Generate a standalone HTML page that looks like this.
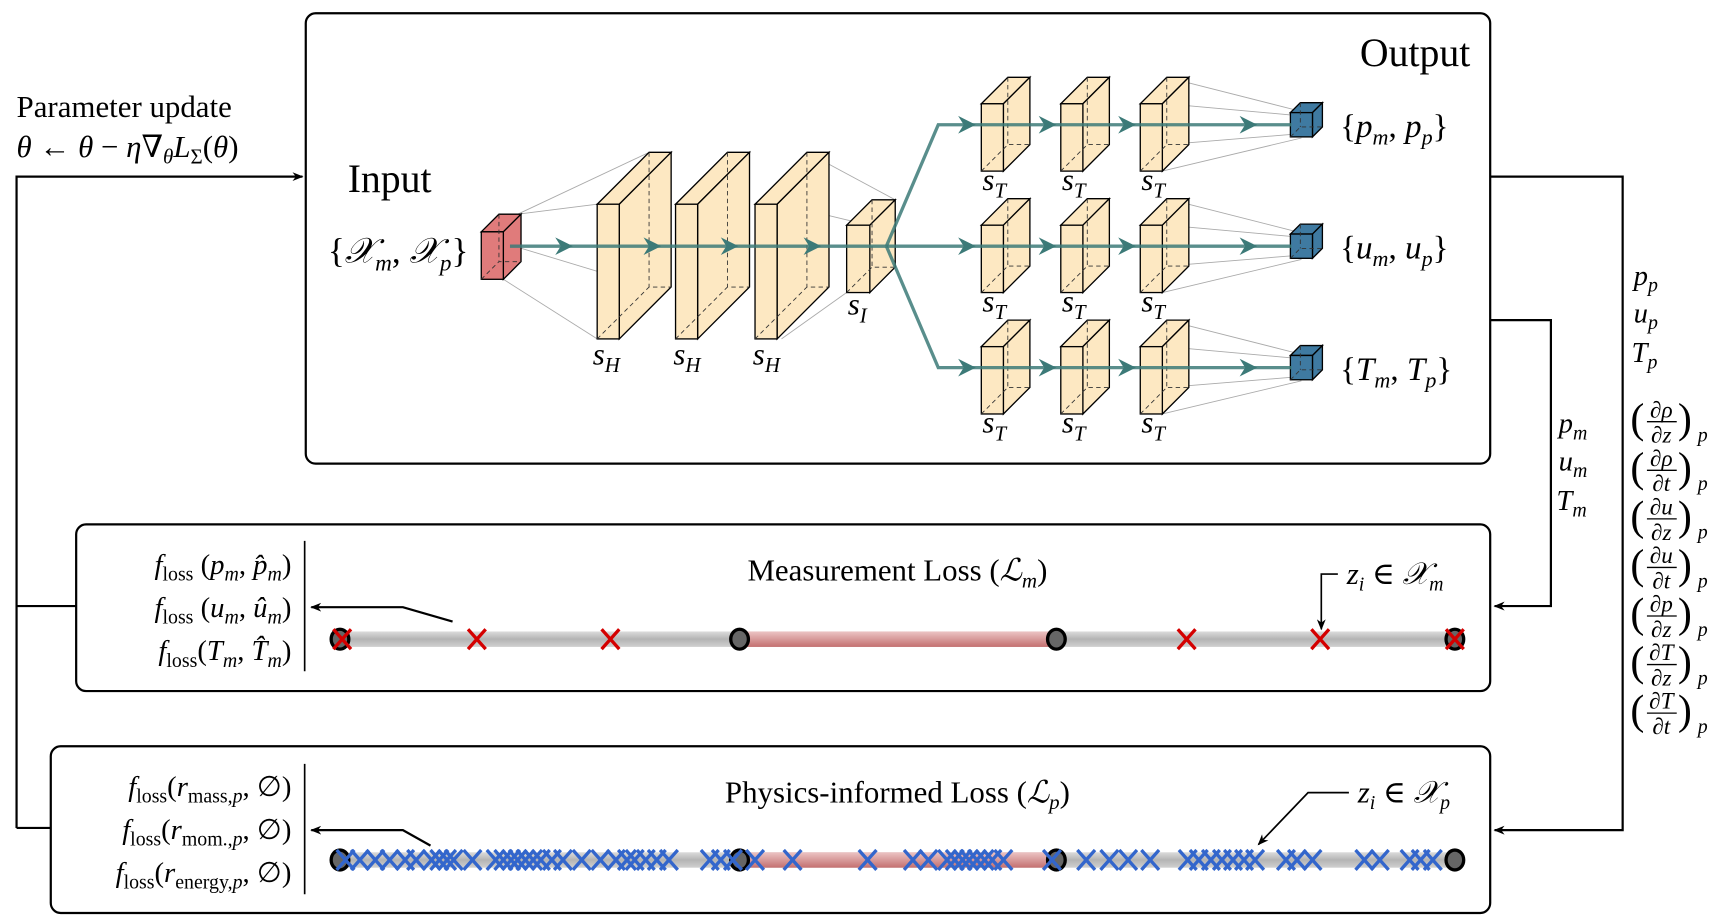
<!DOCTYPE html>
<html><head><meta charset="utf-8"><style>
html,body{margin:0;padding:0;background:#fff;}
svg{display:block;}
text{font-family:"Liberation Serif","DejaVu Serif",serif;fill:#000;}
.it{font-style:italic;}
</style></head><body>
<svg id="fig" width="1722" height="924" viewBox="0 0 1560 837" preserveAspectRatio="none" xmlns="http://www.w3.org/2000/svg" font-family="Liberation Serif, DejaVu Serif, serif">
<defs>
<marker id="ah" markerWidth="10" markerHeight="10" refX="9" refY="5" orient="auto" markerUnits="userSpaceOnUse"><path d="M0,1 L10,5 L0,9 L3,5 z" fill="#000"/></marker>
<linearGradient id="gpipe" x1="0" y1="0" x2="0" y2="1"><stop offset="0" stop-color="#dcdcdc"/><stop offset="0.5" stop-color="#b4b4b4"/><stop offset="1" stop-color="#d0d0d0"/></linearGradient>
<linearGradient id="rpipe" x1="0" y1="0" x2="0" y2="1"><stop offset="0" stop-color="#ecc4c4"/><stop offset="0.5" stop-color="#d79a9a"/><stop offset="1" stop-color="#c47070"/></linearGradient>
</defs>

<rect x="277" y="12" width="1073" height="408" rx="9" fill="none" stroke="#000" stroke-width="2"/>
<text x="1332" y="60" font-size="36" text-anchor="end">Output</text>
<text x="315" y="174" font-size="36">Input</text>
<text x="15" y="106" font-size="28">Parameter update</text>
<text x="15" y="142" font-size="28"><tspan class="it">θ</tspan> ← <tspan class="it">θ</tspan> − <tspan class="it">η</tspan>∇<tspan class="it" font-size="19" dy="6">θ</tspan><tspan class="it" dy="-6">L</tspan><tspan font-size="19" dy="6">Σ</tspan><tspan dy="-6">(</tspan><tspan class="it">θ</tspan>)</text>
<text x="297" y="238" font-size="32">{<tspan class="it">𝒳</tspan><tspan class="it" font-size="21" dy="7">m</tspan><tspan dy="-7">, </tspan><tspan class="it">𝒳</tspan><tspan class="it" font-size="21" dy="7">p</tspan><tspan dy="-7">}</tspan></text>

<g id="net"></g>

<polyline points="15,750 15,160 274,160" fill="none" stroke="#000" stroke-width="2" marker-end="url(#ah)"/>
<line x1="15" y1="549" x2="69" y2="549" stroke="#000" stroke-width="2"/>
<line x1="15" y1="750" x2="46" y2="750" stroke="#000" stroke-width="2"/>
<polyline points="1350,160 1470,160 1470,752 1354,752" fill="none" stroke="#000" stroke-width="2" marker-end="url(#ah)"/>
<polyline points="1350,290 1405,290 1405,549 1354,549" fill="none" stroke="#000" stroke-width="2" marker-end="url(#ah)"/>

<g font-size="26" class="it">
<text x="1412" y="392" class="it">p<tspan font-size="18" dy="6">m</tspan></text>
<text x="1412" y="426" class="it">u<tspan font-size="18" dy="6">m</tspan></text>
<text x="1410" y="462" class="it">T<tspan font-size="18" dy="6">m</tspan></text>
</g>
<g font-size="26">
<text x="1480" y="258" class="it">p<tspan font-size="18" dy="6">p</tspan></text>
<text x="1480" y="292" class="it">u<tspan font-size="18" dy="6">p</tspan></text>
<text x="1478" y="328" class="it">T<tspan font-size="18" dy="6">p</tspan></text>
<g id="derivs"></g>
</g>

<rect x="69" y="475" width="1281" height="151" rx="9" fill="none" stroke="#000" stroke-width="2"/>
<text x="813" y="526" font-size="28" text-anchor="middle">Measurement Loss (<tspan class="it">ℒ</tspan><tspan class="it" font-size="19" dy="6">m</tspan><tspan dy="-6">)</tspan></text>
<text x="1220" y="529" font-size="28" class="it">z<tspan font-size="18" dy="6">i</tspan><tspan dy="-6" font-style="normal"> ∈ </tspan>𝒳<tspan font-size="18" dy="6">m</tspan></text>
<polyline points="1212,520 1197,520 1197,570" fill="none" stroke="#000" stroke-width="1.5" marker-end="url(#ah)"/>
<g font-size="26" text-anchor="end">
<text x="264" y="520"><tspan class="it">f</tspan><tspan font-size="18" dy="6">loss</tspan><tspan dy="-6"> (</tspan><tspan class="it">p</tspan><tspan class="it" font-size="18" dy="6">m</tspan><tspan dy="-6">, </tspan><tspan class="it">p̂</tspan><tspan class="it" font-size="18" dy="6">m</tspan><tspan dy="-6">)</tspan></text>
<text x="264" y="559"><tspan class="it">f</tspan><tspan font-size="18" dy="6">loss</tspan><tspan dy="-6"> (</tspan><tspan class="it">u</tspan><tspan class="it" font-size="18" dy="6">m</tspan><tspan dy="-6">, </tspan><tspan class="it">û</tspan><tspan class="it" font-size="18" dy="6">m</tspan><tspan dy="-6">)</tspan></text>
<text x="264" y="598"><tspan class="it">f</tspan><tspan font-size="18" dy="6">loss</tspan><tspan dy="-6">(</tspan><tspan class="it">T</tspan><tspan class="it" font-size="18" dy="6">m</tspan><tspan dy="-6">, </tspan><tspan class="it">T̂</tspan><tspan class="it" font-size="18" dy="6">m</tspan><tspan dy="-6">)</tspan></text>
</g>
<line x1="276" y1="490" x2="276" y2="608" stroke="#000" stroke-width="1.5"/>
<polyline points="410,563 365,550 282,550" fill="none" stroke="#000" stroke-width="2" marker-end="url(#ah)"/>

<rect x="46" y="676" width="1304" height="151" rx="9" fill="none" stroke="#000" stroke-width="2"/>
<text x="813" y="727" font-size="28" text-anchor="middle">Physics-informed Loss (<tspan class="it">ℒ</tspan><tspan class="it" font-size="19" dy="6">p</tspan><tspan dy="-6">)</tspan></text>
<text x="1230" y="727" font-size="28" class="it">z<tspan font-size="18" dy="6">i</tspan><tspan dy="-6" font-style="normal"> ∈ </tspan>𝒳<tspan font-size="18" dy="6">p</tspan></text>
<polyline points="1222,718 1185,718 1140,765" fill="none" stroke="#000" stroke-width="1.5" marker-end="url(#ah)"/>
<g font-size="26" text-anchor="end">
<text x="264" y="721"><tspan class="it">f</tspan><tspan font-size="18" dy="6">loss</tspan><tspan dy="-6">(</tspan><tspan class="it">r</tspan><tspan font-size="18" dy="6">mass,</tspan><tspan class="it" font-size="18">p</tspan><tspan dy="-6">, ∅)</tspan></text>
<text x="264" y="760"><tspan class="it">f</tspan><tspan font-size="18" dy="6">loss</tspan><tspan dy="-6">(</tspan><tspan class="it">r</tspan><tspan font-size="18" dy="6">mom.,</tspan><tspan class="it" font-size="18">p</tspan><tspan dy="-6">, ∅)</tspan></text>
<text x="264" y="799"><tspan class="it">f</tspan><tspan font-size="18" dy="6">loss</tspan><tspan dy="-6">(</tspan><tspan class="it">r</tspan><tspan font-size="18" dy="6">energy,</tspan><tspan class="it" font-size="18">p</tspan><tspan dy="-6">, ∅)</tspan></text>
</g>
<line x1="276" y1="692" x2="276" y2="810" stroke="#000" stroke-width="1.5"/>
<polyline points="390,766 365,752 282,752" fill="none" stroke="#000" stroke-width="2" marker-end="url(#ah)"/>

<g id="pipes"></g>
</svg>
<script>
const pipeDomain = [0, 1010];
const sensorPositions = [0, 362, 649, 1010];
const heatedSection = [362, 649];
const measurementPoints = [2, 124, 245, 767, 888, 1010];
const collocationPoints = [5,18,32,45,59,69,83,90,97,103,120,141,148,155,161,168,175,182,192,202,219,236,250,260,267,277,287,298,335,345,356,376,410,478,519,533,550,557,564,570,577,584,591,601,645,676,697,714,734,768,778,789,799,809,819,829,857,867,881,928,942,969,979,990];

const NS = 'http://www.w3.org/2000/svg';
function mk(tag, attrs, parent){
  const e = document.createElementNS(NS, tag);
  for (const k in attrs) e.setAttribute(k, attrs[k]);
  parent.appendChild(e);
  return e;
}
function xPipe(z){ return 308 + (z - pipeDomain[0]) / (pipeDomain[1] - pipeDomain[0]) * (1318 - 308); }

const net = document.getElementById('net');
const TEAL = '#3c7a78';
function box(x, y, w, h, d, fill, name){
  const g = mk('g', {}, net);
  
  
  mk('polygon', {points:`${x},${y} ${x+d},${y-d} ${x+w+d},${y-d} ${x+w},${y}`, fill, stroke:'#000','stroke-width':1.2}, g);
  mk('polygon', {points:`${x+w},${y} ${x+w+d},${y-d} ${x+w+d},${y+h-d} ${x+w},${y+h}`, fill, stroke:'#000','stroke-width':1.2}, g);
  mk('rect', {x, y, width:w, height:h, fill, stroke:'#000','stroke-width':1.2}, g);
  mk('polyline', {points:`${x},${y+h} ${x+d},${y+h-d} ${x+w+d},${y+h-d}`, fill:'none', stroke:'#333','stroke-width':0.8,'stroke-dasharray':'4,3'}, g);
  mk('line', {x1:x+d, y1:y-d, x2:x+d, y2:y+h-d, stroke:'#333','stroke-width':0.8,'stroke-dasharray':'4,3'}, g);
  return g;
}
function thin(x1,y1,x2,y2){ mk('line',{x1,y1,x2,y2,stroke:'#aaa','stroke-width':0.8},net); }
function chevron(x, y){
  const p = mk('path', {d:`M${x-12},${y-8} L${x+4},${y} L${x-12},${y+8} L${x-7},${y} z`, fill:TEAL}, net);
  
  
}
thin(469,194,588,138); thin(469,194,541,185); thin(456,253,541,307); thin(456,220,588,260);
thin(731,138,811,181); thin(708,307,767,265); thin(708,185,787,204);
const rowsY = [94, 204, 314];
const colsX = [889, 961, 1033];
rowsY.forEach(ry=>{ const cx=1179, cy=ry+19; thin(1057,ry-24,cx,cy-12); thin(1057,ry,cx,cy-8); thin(1057,ry+37,cx,cy+8); thin(1053,ry+61,cx,cy+12); });

box(436, 210, 20, 43, 16, '#e07b7b', 'input-layer');
[541, 612, 684].forEach(x=> box(x, 185, 20, 122, 47, '#fde8c2', 'hidden-layer'));
box(767, 204, 21, 61, 23, '#fde8c2', 'intermediate-layer');
rowsY.forEach((ry,ri)=>{
  colsX.forEach(cx=> box(cx, ry, 20, 61, 24, '#fde8c2', 'task-layer'));
  box(1169, ry+8, 20, 22, 9, '#3f7aa1', 'output-layer');
});
const fl = mk('polyline',{points:'462,223 803,223', fill:'none', stroke:TEAL,'stroke-width':3,opacity:0.85},net);
 
[515,595,665,740].forEach(x=>chevron(x,223));
rowsY.forEach(ry=>{
  const cy = ry+19;
  const l = mk('polyline',{points:`803,223 850,${cy} 1170,${cy}`, fill:'none', stroke:TEAL,'stroke-width':3,opacity:0.85},net);
   
  [880,953,1025,1135].forEach(x=>chevron(x,cy));
});
function label(x,y,sub,name,size){
  const t = mk('text',{x,y,'font-size':size||28,'class':'it'},net);
  t.innerHTML = `s<tspan font-size="19" dy="7">${sub}</tspan>`;
   
}
[537,610,682].forEach(x=>label(x,330,'H','hidden-layer-label'));
label(768,285,'I','intermediate-layer-label');
rowsY.forEach(ry=>colsX.forEach(cx=>label(cx+1,ry+78,'T','task-layer-label')));
const outs = [['p','output-pressure-label'],['u','output-velocity-label'],['T','output-temperature-label']];
rowsY.forEach((ry,i)=>{
  const t = mk('text',{x:1214,y:ry+30,'font-size':30},net);
  t.innerHTML = `{<tspan class="it">${outs[i][0]}</tspan><tspan class="it" font-size="20" dy="7">m</tspan><tspan dy="-7">, </tspan><tspan class="it">${outs[i][0]}</tspan><tspan class="it" font-size="20" dy="7">p</tspan><tspan dy="-7">}</tspan>`;
   
});

const dg = document.getElementById('derivs');
const derivNum = ['ρ','ρ','u','u','p','T','T'];
const derivDen = ['z','t','z','t','z','z','t'];
derivNum.forEach((n,i)=>{
  const y = 382 + i*44;
  const g = mk('g',{},dg);
  
  
  mk('text',{x:1477,y:y+10,'font-size':38},g).textContent='(';
  mk('text',{x:1505,y:y-4,'font-size':21,'text-anchor':'middle','class':'it'},g).textContent='∂'+n;
  mk('line',{x1:1492,y1:y,x2:1519,y2:y,stroke:'#000','stroke-width':1.2},g);
  mk('text',{x:1505,y:y+19,'font-size':21,'text-anchor':'middle','class':'it'},g).textContent='∂'+derivDen[i];
  mk('text',{x:1520,y:y+10,'font-size':38},g).textContent=')';
  mk('text',{x:1538,y:y+18,'font-size':18,'class':'it'},g).textContent='p';
});

const pg = document.getElementById('pipes');
function pipe(cy, name, pts, color, markerName){
  const g = mk('g',{},pg);
  
  
  mk('rect',{x:xPipe(pipeDomain[0]),y:cy-7,width:xPipe(pipeDomain[1])-xPipe(pipeDomain[0]),height:14,fill:'url(#gpipe)'},g);
  const h = mk('rect',{x:xPipe(heatedSection[0]),y:cy-7,width:xPipe(heatedSection[1])-xPipe(heatedSection[0]),height:14,fill:'url(#rpipe)'},g);
  
  
  sensorPositions.forEach(z=>{
    const c = mk('ellipse',{cx:xPipe(z),cy,rx:8,ry:9,fill:'#666',stroke:'#000','stroke-width':3},g);
    
    
  });
  pts.forEach(z=>{
    const x = xPipe(z), s = 8;
    const p = mk('path',{d:`M${x-s},${cy-s-1} L${x+s},${cy+s+1} M${x+s},${cy-s-1} L${x-s},${cy+s+1}`,stroke:color,'stroke-width':3,fill:'none'},g);
    
    
  });
}
pipe(579, 'measurement-pipe', measurementPoints, '#d40000', 'measurement-point');
pipe(779, 'physics-pipe', collocationPoints, '#3366cc', 'collocation-point');
</script>
</body></html>
